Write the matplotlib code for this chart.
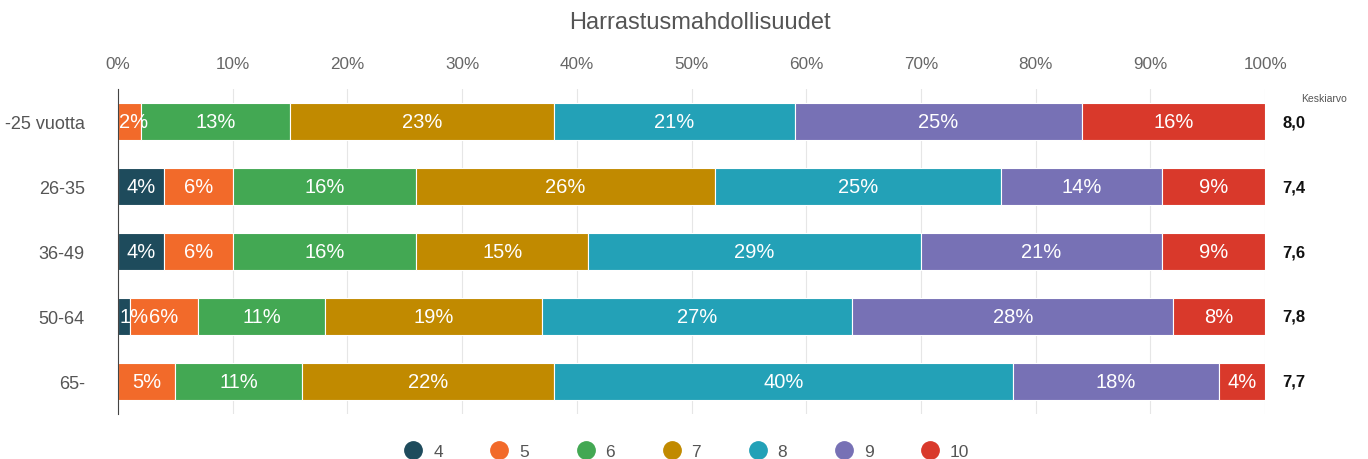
import matplotlib.pyplot as plt
from matplotlib.lines import Line2D
import numpy as np

plt.rcParams["font.family"] = ["Liberation Sans", "DejaVu Sans"]

groups = ["-25 vuotta", "26-35", "36-49", "50-64", "65-"]
grades = ["4", "5", "6", "7", "8", "9", "10"]
shares = {
    "4": [0, 4, 4, 1, 0],
    "5": [2, 6, 6, 6, 5],
    "6": [13, 16, 16, 11, 11],
    "7": [23, 26, 15, 19, 22],
    "8": [21, 25, 29, 27, 40],
    "9": [25, 14, 21, 28, 18],
    "10": [16, 9, 9, 8, 4],
}
means = ["8,0", "7,4", "7,6", "7,8", "7,7"]
colors = ["#1e4b5c", "#f26a2a", "#43a853", "#c18a00", "#23a1b7", "#7771b5", "#d9392b"]

fig = plt.figure(figsize=(13.68, 4.6), dpi=100)
ax = fig.add_axes([0.0863, 0.098, 0.8385, 0.706])

y = np.arange(len(groups))
left = np.zeros(len(groups))
labels = []
for grade, col in zip(grades, colors):
    vals = np.array(shares[grade], dtype=float)
    ax.barh(y, vals, left=left, height=0.57, color=col, edgecolor="white",
            linewidth=0.8, zorder=2)
    for yi, (l, v) in enumerate(zip(left, vals)):
        if v > 0:
            labels.append((l, v, yi))
    left += vals

# labels drawn after all bars so small ones can spill over;
# tiny first segments keep their label inside the plot area
for l, v, yi in labels:
    if l == 0 and v <= 2:
        ax.text(0.1, yi, f"{int(v)}%", ha="left", va="center", color="white",
                fontsize=14.5, zorder=3)
    else:
        ax.text(l + v / 2, yi, f"{int(v)}%", ha="center", va="center",
                color="white", fontsize=14.5, zorder=3)

ax.set_xlim(0, 100)
ax.set_ylim(len(groups) - 0.5, -0.5)
ax.set_xticks(np.arange(0, 101, 10))
ax.set_xticklabels([f"{t}%" for t in range(0, 101, 10)])
ax.xaxis.tick_top()
ax.tick_params(axis="x", length=0, pad=13, labelsize=12.3, labelcolor="#666666")
ax.set_yticks(y)
ax.set_yticklabels(groups)
ax.tick_params(axis="y", length=0, pad=24, labelsize=13, labelcolor="#555555")
ax.grid(axis="x", color="#e6e6e6", linewidth=0.8, zorder=0)
for s in ["top", "right", "bottom"]:
    ax.spines[s].set_visible(False)
ax.spines["left"].set_color("#444444")
ax.spines["left"].set_zorder(4)

# mean column
ax.text(1.031, 1.0 - 9 / 325, "Keskiarvo", transform=ax.transAxes, ha="left",
        va="center", fontsize=7.5, color="#555555")
for yi, m in enumerate(means):
    ax.text(101.5, yi, m, ha="left", va="center", fontsize=12,
            fontweight="bold", color="#111111", clip_on=False)

fig.text(0.512, 0.95, "Harrastusmahdollisuudet", ha="center", va="center",
         fontsize=17, color="#555555")

handles = [Line2D([], [], marker="o", linestyle="none", markersize=12.5,
                  markerfacecolor=c, markeredgecolor=c) for c in colors]
fig.legend(handles, grades, loc="center", bbox_to_anchor=(0.499, 0.017),
           ncol=len(grades), frameon=False, fontsize=12.5, handletextpad=0.15,
           columnspacing=2.25, labelcolor="#555555")

fig.savefig("out.png", dpi=100)
